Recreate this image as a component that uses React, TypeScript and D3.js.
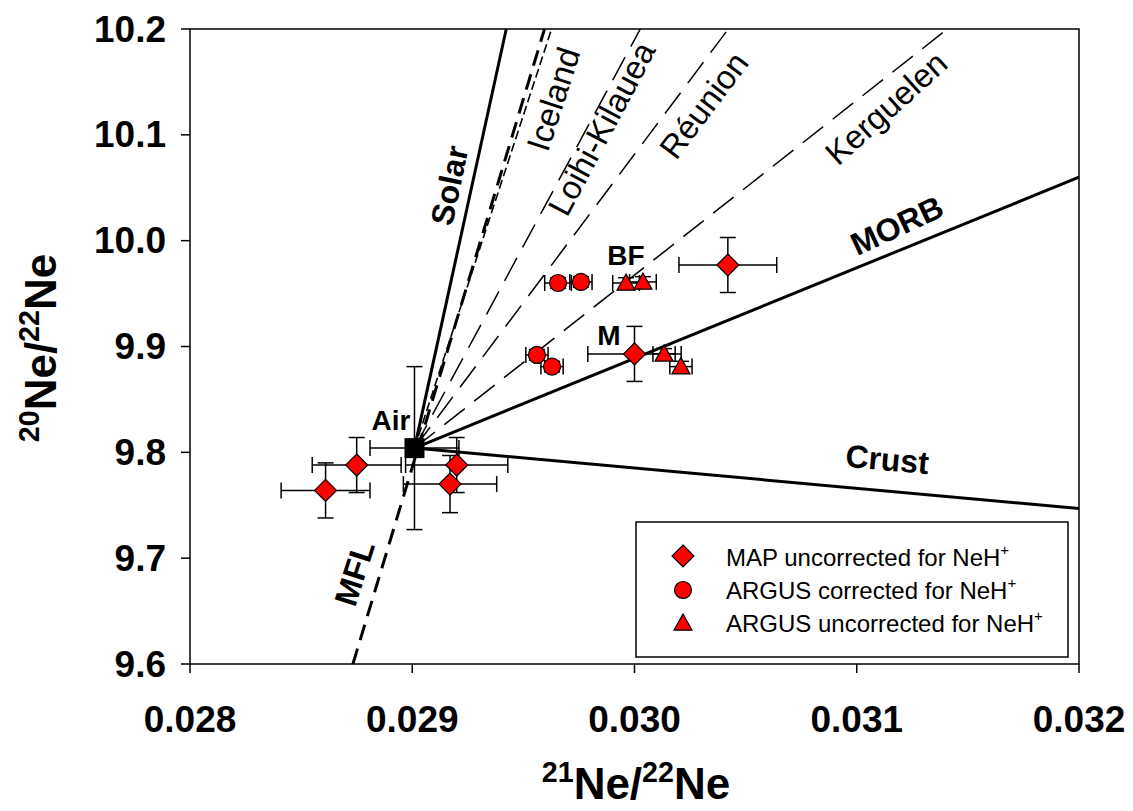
import React from "react";
import * as d3 from "d3";

// MAP uncorrected for NeH+
const mapX = [0.02861, 0.02875, 0.0292, 0.02917, 0.03, 0.03042];
const mapY = [9.764, 9.788, 9.788, 9.77, 9.893, 9.977];
const mapXErr = [0.0002, 0.0002, 0.00023, 0.00021, 0.00021, 0.00022];
const mapYErr = [0.026, 0.026, 0.026, 0.027, 0.026, 0.026];

// ARGUS corrected for NeH+
const corX = [0.029656, 0.029759, 0.029561, 0.029629];
const corY = [9.96, 9.961, 9.892, 9.881];
const corXErr = [0.00006, 0.00005, 0.00005, 0.00005];
const corYErr = [0.005, 0.005, 0.005, 0.005];

// ARGUS uncorrected for NeH+
const uncX = [0.029962, 0.030038, 0.030133, 0.030209];
const uncY = [9.96, 9.961, 9.893, 9.881];
const uncXErr = [0.00006, 0.00006, 0.00005, 0.00005];
const uncYErr = [0.005, 0.005, 0.005, 0.005];

// Air
const airX = 0.02901;
const airY = 9.804;
const airXErr = 0.0002;
const airYErr = 0.077;

// reference lines from air
const lineNames = ["Solar", "Iceland", "Loihi-Kilauea", "Réunion", "Kerguelen", "MORB", "Crust"];
const lineEndX = [0.029423, 0.029627, 0.030026, 0.030422, 0.031408, 0.032, 0.032];
const lineEndY = [10.2, 10.2, 10.2, 10.2, 10.2, 10.06, 9.747];
const mflX = [0.028733, 0.029595];
const mflY = [9.6, 10.2];

const xTicks = [0.028, 0.029, 0.03, 0.031, 0.032];
const yTicks = [9.6, 9.7, 9.8, 9.9, 10.0, 10.1, 10.2];

const legendLabels = ["MAP uncorrected for NeH", "ARGUS corrected for NeH", "ARGUS uncorrected for NeH"];

const W = 1133;
const H = 811;
const m = { left: 190, right: 1079, top: 29, bottom: 664 };

export default function App() {
  const x = d3.scaleLinear().domain([0.028, 0.032]).range([m.left, m.right]);
  const y = d3.scaleLinear().domain([9.6, 10.2]).range([m.bottom, m.top]);
  const font = "Arial, 'Liberation Sans', sans-serif";
  const red = "#ff0000";

  const errBars = (cx: number, cy: number, ex: number, ey: number, key: string) => {
    const x0 = x(cx - ex), x1 = x(cx + ex), y0 = y(cy - ey), y1 = y(cy + ey);
    const px = x(cx), py = y(cy);
    const c = 8;
    return (
      <g key={key} stroke="#000" strokeWidth={1.5}>
        <line x1={x0} x2={x1} y1={py} y2={py} />
        <line x1={x0} x2={x0} y1={py - c} y2={py + c} />
        <line x1={x1} x2={x1} y1={py - c} y2={py + c} />
        <line x1={px} x2={px} y1={y0} y2={y1} />
        <line x1={px - c} x2={px + c} y1={y0} y2={y0} />
        <line x1={px - c} x2={px + c} y1={y1} y2={y1} />
      </g>
    );
  };

  const diamond = (px: number, py: number, r: number) =>
    `M${px},${py - r}L${px + r},${py}L${px},${py + r}L${px - r},${py}Z`;
  const triangle = (px: number, py: number, r: number) =>
    `M${px},${py - r}L${px + r},${py + r * 0.8}L${px - r},${py + r * 0.8}Z`;

  const dashes: Record<string, string> = {
    Solar: "",
    Iceland: "9,4",
    "Loihi-Kilauea": "26,12",
    "Réunion": "26,12",
    Kerguelen: "26,12",
    MORB: "",
    Crust: "",
  };
  const widths: Record<string, number> = {
    Solar: 3, Iceland: 1.6, "Loihi-Kilauea": 1.5, "Réunion": 1.5, Kerguelen: 1.5, MORB: 3, Crust: 3,
  };

  const sup = (a: string, b: string, size: number) => (
    <>
      <tspan fontSize={size * 0.65} dy={-size * 0.38}>{a}</tspan>
      <tspan dy={size * 0.38}>Ne/</tspan>
      <tspan fontSize={size * 0.65} dy={-size * 0.38}>{b}</tspan>
      <tspan dy={size * 0.38}>Ne</tspan>
    </>
  );

  return (
    <svg width={W} height={H} style={{ position: "absolute", left: 0, top: 0, background: "#fff" }} fontFamily={font}>
      {/* reference lines */}
      <g fill="none" stroke="#000">
        {lineNames.map((n, i) => (
          <line
            key={n}
            x1={x(airX)}
            y1={y(airY)}
            x2={x(lineEndX[i])}
            y2={y(lineEndY[i])}
            strokeWidth={widths[n]}
            strokeDasharray={dashes[n] || undefined}
          />
        ))}
        <line x1={x(mflX[0])} y1={y(mflY[0])} x2={x(mflX[1])} y2={y(mflY[1])} strokeWidth={3} strokeDasharray="16,9" />
      </g>

      {/* line labels */}
      <g fontWeight="bold" fontSize={32}>
        <text transform={`translate(452,186) rotate(-78)`} textAnchor="middle" dominantBaseline="middle">Solar</text>
        <text transform={`translate(898,228) rotate(-25)`} textAnchor="middle" dominantBaseline="middle">MORB</text>
        <text transform={`translate(887,462) rotate(5)`} textAnchor="middle" dominantBaseline="middle">Crust</text>
        <text transform={`translate(357,574) rotate(-72)`} textAnchor="middle" dominantBaseline="middle">MFL</text>
      </g>
      <g fontWeight="bold" fontSize={28}>
        <text x={626} y={265} textAnchor="middle">BF</text>
        <text x={609} y={345} textAnchor="middle">M</text>
        <text x={391} y={430} textAnchor="middle">Air</text>
      </g>
      <g fontSize={33}>
        <text transform={`translate(556,100) rotate(-72)`} textAnchor="middle" dominantBaseline="middle">Iceland</text>
        <text transform={`translate(604,130) rotate(-62)`} textAnchor="middle" dominantBaseline="middle">Loihi-Kilauea</text>
        <text transform={`translate(706,107) rotate(-53)`} textAnchor="middle" dominantBaseline="middle">Réunion</text>
        <text transform={`translate(888,110) rotate(-42)`} textAnchor="middle" dominantBaseline="middle">Kerguelen</text>
      </g>

      {/* error bars */}
      {errBars(airX, airY, airXErr, airYErr, "air")}
      {mapX.map((v, i) => errBars(v, mapY[i], mapXErr[i], mapYErr[i], "me" + i))}
      {corX.map((v, i) => errBars(v, corY[i], corXErr[i], corYErr[i], "ce" + i))}
      {uncX.map((v, i) => errBars(v, uncY[i], uncXErr[i], uncYErr[i], "ue" + i))}

      {/* markers */}
      <rect x={x(airX) - 10} y={y(airY) - 10} width={20} height={20} fill="#000" />
      <g fill={red} stroke="#000" strokeWidth={1.2}>
        {mapX.map((v, i) => (
          <path key={"m" + i} d={diamond(x(v), y(mapY[i]), 11)} />
        ))}
        {corX.map((v, i) => (
          <circle key={"c" + i} cx={x(v)} cy={y(corY[i])} r={8.5} />
        ))}
        {uncX.map((v, i) => (
          <path key={"u" + i} d={triangle(x(v), y(uncY[i]), 9)} />
        ))}
      </g>

      {/* frame */}
      <rect x={m.left} y={m.top} width={m.right - m.left} height={m.bottom - m.top} fill="none" stroke="#000" strokeWidth={1.5} />

      {/* axes ticks */}
      <g stroke="#000" strokeWidth={1.5}>
        {xTicks.map((t) => (
          <line key={"xt" + t} x1={x(t)} x2={x(t)} y1={m.bottom} y2={m.bottom + 9} />
        ))}
        {yTicks.map((t) => (
          <line key={"yt" + t} x1={m.left - 9} x2={m.left} y1={y(t)} y2={y(t)} />
        ))}
      </g>
      <g fontWeight="bold" fontSize={37}>
        {xTicks.map((t) => (
          <text key={"xl" + t} x={x(t)} y={732} textAnchor="middle">{d3.format(".3f")(t)}</text>
        ))}
        {yTicks.map((t) => (
          <text key={"yl" + t} x={166} y={y(t)} textAnchor="end" dominantBaseline="central">{d3.format(".1f")(t)}</text>
        ))}
      </g>

      {/* axis titles */}
      <text x={636} y={799} textAnchor="middle" fontWeight="bold" fontSize={44}>
        {sup("21", "22", 44)}
      </text>
      <text transform="translate(56,348) rotate(-90)" textAnchor="middle" fontWeight="bold" fontSize={44}>
        {sup("20", "22", 44)}
      </text>

      {/* legend */}
      <rect x={636} y={522} width={432} height={135} fill="#fff" stroke="#000" strokeWidth={1.5} />
      <g fill={red} stroke="#000" strokeWidth={1.2}>
        <path d={diamond(683, 556, 11)} />
        <circle cx={683} cy={590} r={8.5} />
        <path d={triangle(683, 623, 9)} />
      </g>
      <g fontSize={24}>
        {legendLabels.map((l, i) => (
          <text key={l} x={726} y={566 + i * 33}>
            {l}
            <tspan fontSize={15} dy={-11}>+</tspan>
          </text>
        ))}
      </g>
    </svg>
  );
}
